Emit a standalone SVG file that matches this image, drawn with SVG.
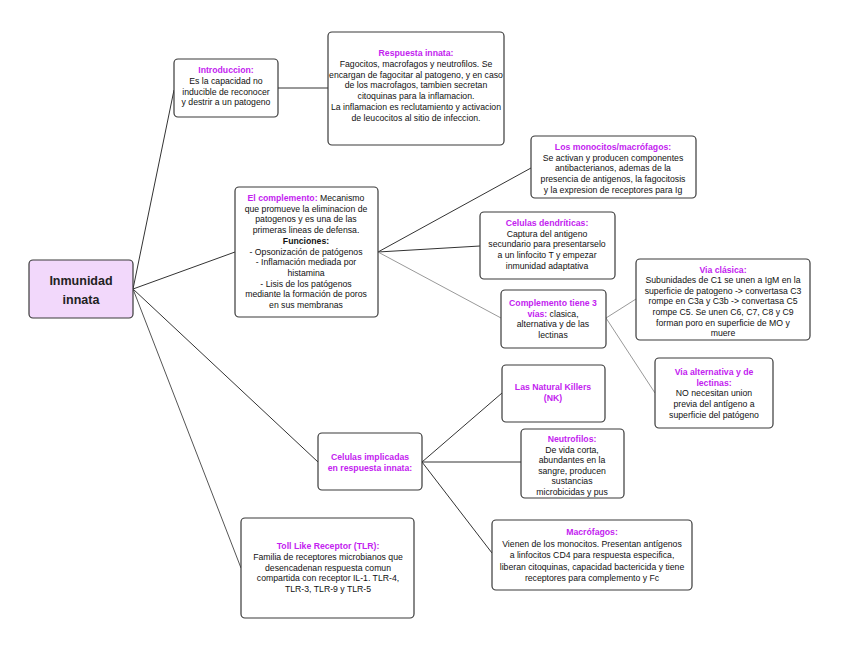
<svg xmlns="http://www.w3.org/2000/svg" width="848" height="655" viewBox="0 0 848 655">
<style>
.box{fill:#ffffff;stroke:#3a3a3a;stroke-width:1.2}
.root{fill:#f2d8fb;stroke:#3a3a3a;stroke-width:1.2}
text{font-family:"Liberation Sans",Arial,sans-serif;font-size:8.7px;fill:#111;text-anchor:middle}
.t{fill:#c322f0;font-weight:bold}
.b{font-weight:bold}
.rt{font-size:12.5px;font-weight:bold;fill:#222}
.c{stroke:#333;stroke-width:1;fill:none}
.g{stroke:#999;stroke-width:1;fill:none}
.m{stroke:#555;stroke-width:1;fill:none}
</style>
<rect width="848" height="655" fill="#ffffff"/>
<g id="connectors">
<line class="c" x1="133" y1="289" x2="174" y2="90"/>
<line class="c" x1="278" y1="88" x2="328" y2="88"/>
<line class="c" x1="133" y1="289" x2="235" y2="252"/>
<line class="c" x1="133" y1="289" x2="318" y2="462"/>
<line class="m" x1="133" y1="289" x2="241" y2="568"/>
<line class="c" x1="378" y1="252" x2="531" y2="168"/>
<line class="c" x1="378" y1="252" x2="480" y2="246"/>
<line class="g" x1="378" y1="252" x2="501" y2="318"/>
<line class="g" x1="606" y1="318" x2="636" y2="299"/>
<line class="g" x1="606" y1="318" x2="655" y2="393"/>
<line class="c" x1="422" y1="462" x2="502" y2="393"/>
<line class="c" x1="422" y1="462" x2="521" y2="462"/>
<line class="c" x1="422" y1="462" x2="492" y2="553"/>
</g>
<g id="root">
<rect class="root" x="29" y="260" width="104" height="58" rx="4"/>
<text class="rt" x="81" y="285">Inmunidad</text>
<text class="rt" x="81" y="304">innata</text>
</g>
<g id="introduccion">
<rect class="box" x="174" y="59" width="104" height="58" rx="4"/>
<text class="t" x="226" y="73">Introduccion:</text>
<text x="226" y="84">Es la capacidad no</text>
<text x="226" y="94.6">inducible de reconocer</text>
<text x="226" y="105.2">y destrir a un patogeno</text>
</g>
<g id="respuesta">
<rect class="box" x="328" y="32" width="176" height="113" rx="4"/>
<text class="t" x="416" y="56">Respuesta innata:</text>
<text x="416" y="66.8">Fagocitos, macrofagos y neutrofilos. Se</text>
<text x="416" y="77.6">encargan de fagocitar al patogeno, y en caso</text>
<text x="416" y="88.4">de los macrofagos, tambien secretan</text>
<text x="416" y="99.2">citoquinas para la inflamacion.</text>
<text x="416" y="110">La inflamacion es reclutamiento y activacion</text>
<text x="416" y="120.8">de leucocitos al sitio de infeccion.</text>
</g>
<g id="monocitos">
<rect class="box" x="531" y="136" width="165" height="62" rx="4"/>
<text class="t" x="613" y="150">Los monocitos/macrófagos:</text>
<text x="613" y="160.7">Se activan y producen componentes</text>
<text x="613" y="171.4">antibacterianos, ademas de la</text>
<text x="613" y="182.1">presencia de antigenos, la fagocitosis</text>
<text x="613" y="192.8">y la expresion de receptores para Ig</text>
</g>
<g id="complemento">
<rect class="box" x="235" y="187" width="143" height="130" rx="4"/>
<text x="306" y="201"><tspan class="t">El complemento:</tspan> Mecanismo</text>
<text x="306" y="211.7">que promueve la eliminacion de</text>
<text x="306" y="222.4">patogenos y es una de las</text>
<text x="306" y="233.1">primeras lineas de defensa.</text>
<text class="b" x="306" y="243.8">Funciones:</text>
<text x="306" y="254.5">- Opsonización de patógenos</text>
<text x="306" y="265.2">- Inflamación mediada por</text>
<text x="306" y="275.9">histamina</text>
<text x="306" y="286.6">- Lisis de los patógenos</text>
<text x="306" y="297.3">mediante la formación de poros</text>
<text x="306" y="308">en sus membranas</text>
</g>
<g id="dendriticas">
<rect class="box" x="480" y="212" width="135" height="67" rx="4"/>
<text class="t" x="547" y="226">Celulas dendríticas:</text>
<text x="547" y="236.7">Captura del antigeno</text>
<text x="547" y="247.4">secundario para presentarselo</text>
<text x="547" y="258.1">a un linfocito T y empezar</text>
<text x="547" y="268.8">inmunidad adaptativa</text>
</g>
<g id="tres-vias">
<rect class="box" x="501" y="290" width="105" height="58" rx="4"/>
<text class="t" x="553" y="306">Complemento tiene 3</text>
<text x="553" y="316.7"><tspan class="t">vías:</tspan> clasica,</text>
<text x="553" y="327.4">alternativa y de las</text>
<text x="553" y="338.1">lectinas</text>
</g>
<g id="via-clasica">
<rect class="box" x="636" y="259" width="174" height="81" rx="4"/>
<text class="t" x="723" y="272.5">Via clásica:</text>
<text x="723" y="283.1">Subunidades de C1 se unen a IgM en la</text>
<text x="723" y="293.7">superficie de patogeno -&gt; convertasa C3</text>
<text x="723" y="304.3">rompe en C3a y C3b -&gt; convertasa C5</text>
<text x="723" y="314.9">rompe C5. Se unen C6, C7, C8 y C9</text>
<text x="723" y="325.5">forman poro en superficie de MO y</text>
<text x="723" y="336.1">muere</text>
</g>
<g id="via-alternativa">
<rect class="box" x="655" y="358" width="118" height="70" rx="4"/>
<text class="t" x="714" y="375">Via alternativa y de</text>
<text class="t" x="714" y="385.7">lectinas:</text>
<text x="714" y="396.4">NO necesitan union</text>
<text x="714" y="407.1">previa del antígeno a</text>
<text x="714" y="417.8">superficie del patógeno</text>
</g>
<g id="natural-killers">
<rect class="box" x="502" y="365" width="103" height="57" rx="4"/>
<text class="t" x="553" y="390">Las Natural Killers</text>
<text class="t" x="553" y="401">(NK)</text>
</g>
<g id="neutrofilos">
<rect class="box" x="521" y="429" width="103" height="69" rx="4"/>
<text class="t" x="572" y="442">Neutrofilos:</text>
<text x="572" y="452.5">De vida corta,</text>
<text x="572" y="463">abundantes en la</text>
<text x="572" y="473.5">sangre, producen</text>
<text x="572" y="484">sustancias</text>
<text x="572" y="494.5">microbicidas y pus</text>
</g>
<g id="celulas-implicadas">
<rect class="box" x="318" y="433" width="104" height="57" rx="4"/>
<text class="t" x="370" y="460">Celulas implicadas</text>
<text class="t" x="370" y="470.7">en respuesta innata:</text>
</g>
<g id="tlr">
<rect class="box" x="241" y="518" width="173" height="100" rx="4"/>
<text class="t" x="328" y="549">Toll Like Receptor (TLR):</text>
<text x="328" y="559.8">Familia de receptores microbianos que</text>
<text x="328" y="570.6">desencadenan respuesta comun</text>
<text x="328" y="581.4">compartida con receptor IL-1. TLR-4,</text>
<text x="328" y="592.2">TLR-3, TLR-9 y TLR-5</text>
</g>
<g id="macrofagos">
<rect class="box" x="492" y="520" width="200" height="70" rx="4"/>
<text class="t" x="592" y="535">Macrófagos:</text>
<text x="592" y="546.5">Vienen de los monocitos. Presentan antígenos</text>
<text x="592" y="558">a linfocitos CD4 para respuesta especifica,</text>
<text x="592" y="569.5">liberan citoquinas, capacidad bactericida y tiene</text>
<text x="592" y="581">receptores para complemento y Fc</text>
</g>
</svg>
